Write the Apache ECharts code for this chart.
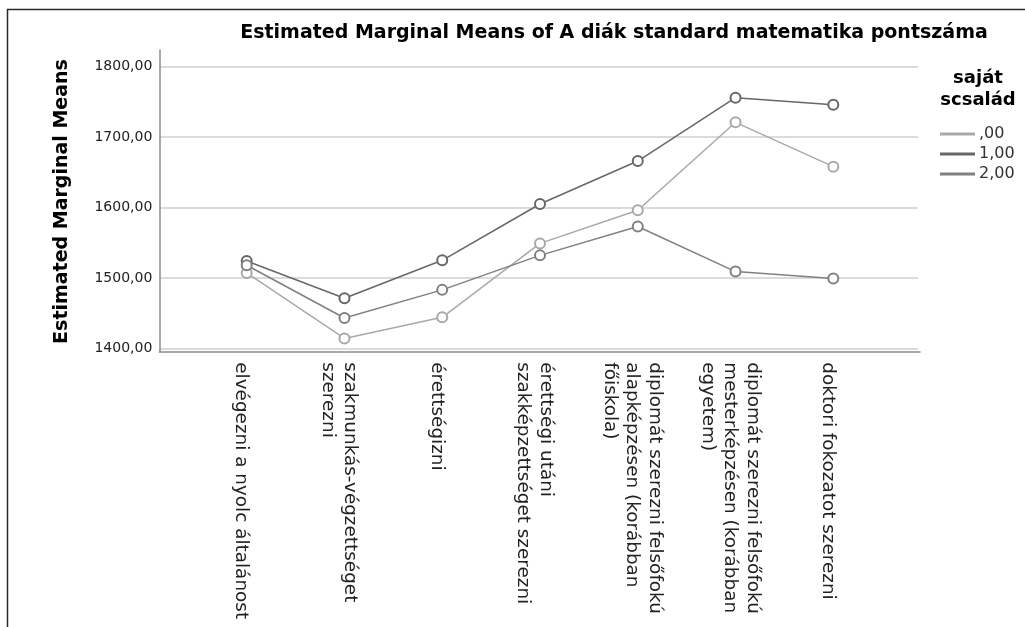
<!DOCTYPE html>
<html>
<head>
<meta charset="utf-8">
<script src="https://cdn.jsdelivr.net/npm/echarts@6/dist/echarts.min.js"></script>
<style>
html,body{margin:0;padding:0;background:#fff;}
#chart{width:1025px;height:627px;}
</style>
</head>
<body>
<div id="chart"></div>
<script>
var categories = [
  "elvégezni a nyolc általánost",
  "szakmunkás-végzettséget\nszerezni",
  "érettségizni",
  "érettségi utáni\nszakképzettséget szerezni",
  "diplomát szerezni felsőfokú\nalapképzésen (korábban\nfőiskola)",
  "diplomát szerezni felsőfokú\nmesterképzésen (korábban\negyetem)",
  "doktori fokozatot szerezni"
];
var seriesNames = [",00", "1,00", "2,00"];
var values00 = [1507, 1414, 1444, 1549, 1596, 1721, 1658];
var values10 = [1524, 1471, 1525, 1605, 1666, 1756, 1746];
var values20 = [1518, 1443, 1483, 1532, 1573, 1509, 1499];
var yTicks = [1400, 1500, 1600, 1700, 1800];
var chartTitle = "Estimated Marginal Means of A diák standard matematika pontszáma";
var yTitle = "Estimated Marginal Means";
var legendTitle = "saját\nscsalád";

var colors = ["#a9a9a9", "#676767", "#808080"];
var FONT = "DejaVu Sans";

function mkSeries(name, data, color) {
  return {
    name: name, type: 'line', xAxisIndex: 2, yAxisIndex: 2,
    data: data, symbol: 'emptyCircle', symbolSize: 10,
    lineStyle: {color: color, width: 1.5},
    itemStyle: {color: color, borderColor: color, borderWidth: 1.3},
    emphasis: {disabled: true}
  };
}

var chart = echarts.init(document.getElementById('chart'), null, {renderer: 'canvas'});
chart.setOption({
  animation: false,
  backgroundColor: '#fff',
  textStyle: {fontFamily: FONT},
  graphic: [
    {type: 'rect', shape: {x: 7.5, y: 9.5, width: 1100, height: 700},
     style: {fill: null, stroke: '#2a2a2a', lineWidth: 1.5}, silent: true},
    {type: 'text', x: 614, y: 33,
     style: {text: chartTitle, fill: '#000', font: 'bold 19px "DejaVu Sans"', textAlign: 'center', textVerticalAlign: 'middle'}},
    {type: 'text', x: 62.5, y: 201.5, rotation: Math.PI / 2,
     style: {text: yTitle, fill: '#000', font: 'bold 19px "DejaVu Sans"', textAlign: 'center', textVerticalAlign: 'middle'}},
    {type: 'text', x: 978, y: 89,
     style: {text: legendTitle, fill: '#000', font: 'bold 18px "DejaVu Sans"', lineHeight: 22, textAlign: 'center', textVerticalAlign: 'middle'}}
  ],
  legend: {
    data: seriesNames, orient: 'vertical', left: 935, top: 119,
    icon: 'rect', itemWidth: 33, itemHeight: 1.2, itemGap: 0,
    textStyle: {fontFamily: FONT, fontSize: 16, color: '#333', lineHeight: 20},
    selectedMode: false
  },
  grid: [
    {left: 159.3, right: 107, top: 66.7, bottom: 278.7},
    {left: 159.3, right: 105, top: 50, bottom: 275.3},
    {left: 246.7, right: 191.7, top: 66.7, bottom: 278.7},
    {left: 241.2, right: 197.2, top: 66.7, bottom: 278.7}
  ],
  xAxis: [
    {gridIndex: 0, type: 'value', min: 0, max: 1, show: false},
    {gridIndex: 1, type: 'value', min: 0, max: 1,
     axisLine: {show: true, lineStyle: {color: '#8c8c8c', width: 1.5}},
     axisTick: {show: false}, axisLabel: {show: false}, splitLine: {show: false}},
    {gridIndex: 2, type: 'category', data: categories, boundaryGap: false,
     axisLine: {show: false}, axisTick: {show: false}, splitLine: {show: false},
     axisLabel: {show: false}},
    {gridIndex: 3, type: 'category', data: categories, boundaryGap: false,
     axisLine: {show: false}, axisTick: {show: false}, splitLine: {show: false},
     axisLabel: {interval: 0, rotate: -90, margin: 14, fontSize: 18.4, lineHeight: 22.5,
       color: '#222', fontFamily: FONT}}
  ],
  yAxis: [
    {gridIndex: 0, type: 'value', min: yTicks[0], max: yTicks[yTicks.length - 1], interval: 100,
     axisLine: {show: false}, axisTick: {show: false},
     axisLabel: {margin: 7, fontSize: 14, color: '#222', fontFamily: FONT,
       formatter: function (v) { return v.toFixed(2).replace('.', ','); }},
     splitLine: {show: true, lineStyle: {color: '#cfcfcf', width: 1.5}}},
    {gridIndex: 1, type: 'value', min: 0, max: 1,
     axisLine: {show: true, lineStyle: {color: '#8c8c8c', width: 1.5}},
     axisTick: {show: false}, axisLabel: {show: false}, splitLine: {show: false}},
    {gridIndex: 2, type: 'value', min: yTicks[0], max: yTicks[yTicks.length - 1], show: false},
    {gridIndex: 3, type: 'value', min: yTicks[0], max: yTicks[yTicks.length - 1], show: false}
  ],
  series: [
    mkSeries(seriesNames[0], values00, colors[0]),
    mkSeries(seriesNames[1], values10, colors[1]),
    mkSeries(seriesNames[2], values20, colors[2])
  ]
});
</script>
</body>
</html>
